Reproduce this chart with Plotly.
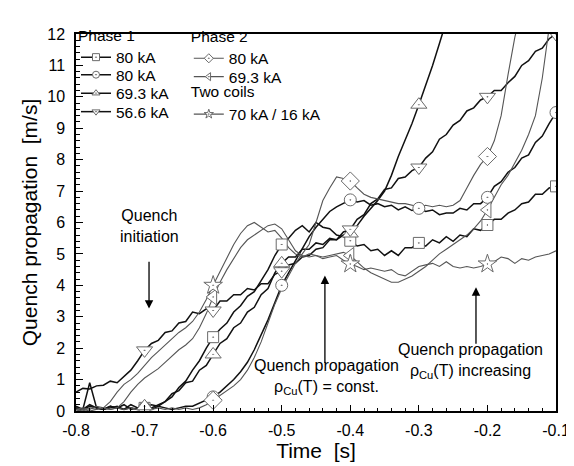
import plotly.graph_objects as go

# time grid [s]
t = [-0.80, -0.79, -0.78, -0.77, -0.76, -0.75, -0.74, -0.73, -0.72, -0.71,
     -0.70, -0.69, -0.68, -0.67, -0.66, -0.65, -0.64, -0.63, -0.62, -0.61,
     -0.60, -0.59, -0.58, -0.57, -0.56, -0.55, -0.54, -0.53, -0.52, -0.51,
     -0.50, -0.49, -0.48, -0.47, -0.46, -0.45, -0.44, -0.43, -0.42, -0.41,
     -0.40, -0.39, -0.38, -0.37, -0.36, -0.35, -0.34, -0.33, -0.32, -0.31,
     -0.30, -0.29, -0.28, -0.27, -0.26, -0.25, -0.24, -0.23, -0.22, -0.21,
     -0.20, -0.19, -0.18, -0.17, -0.16, -0.15, -0.14, -0.13, -0.12, -0.11,
     -0.10]

# Phase 1, 80 kA (square)
p1_80a = [0.15, 0.05, 0.2, 0.1, 0.05, 0.15, 0.1, 0.05, 0.2, 0.1,
          0.1, 0.2, 0.15, 0.3, 0.45, 0.75, 0.95, 1.3, 1.6, 2.0,
          2.35, 2.6, 2.8, 3.15, 3.35, 3.65, 3.8, 4.15, 4.5, 4.95,
          5.3, 5.5, 5.75, 5.9, 5.7, 6.0, 5.85, 5.8, 5.6, 5.55,
          5.42, 5.25, 5.3, 5.1, 5.15, 4.95, 5.1, 4.95, 5.2, 5.2,
          5.35, 5.25, 5.45, 5.35, 5.55, 5.4, 5.6, 5.55, 5.8, 5.75,
          5.92, 6.1, 6.1, 6.3, 6.4, 6.6, 6.65, 6.9, 6.9, 7.1,
          7.15]
# Phase 1, 80 kA (circle)
p1_80b = [0.1, 0.05, 0.15, 0.1, 0.05, 0.1, 0.15, 0.05, 0.1, 0.05,
          0.1, 0.05, 0.15, 0.1, 0.05, 0.1, 0.15, 0.15, 0.25, 0.35,
          0.45, 0.6, 0.8, 1.0, 1.25, 1.55, 1.95, 2.4, 2.9, 3.45,
          4.0, 4.4, 4.8, 5.2, 5.55, 5.85, 6.1, 6.35, 6.5, 6.6,
          6.72, 6.65, 6.7, 6.55, 6.6, 6.5, 6.55, 6.4, 6.5, 6.38,
          6.45, 6.35, 6.4, 6.25, 6.3, 6.3, 6.45, 6.4, 6.6, 6.6,
          6.8, 7.15, 7.3, 7.6, 7.75, 8.05, 8.15, 8.55, 8.75, 9.15,
          9.5]
# Phase 1, 69.3 kA (triangle up)
p1_69 = [0.1, 0.05, 0.9, 0.1, 0.05, 0.15, 0.1, 0.2, 0.05, 0.1,
         0.15, 0.1, 0.2, 0.3, 0.55, 0.65, 0.9, 0.95, 1.3, 1.45,
         1.8, 2.15, 2.3, 2.65, 2.8, 3.15, 3.3, 3.7, 3.9, 4.4,
         4.7, 4.9, 4.9, 5.15, 5.15, 5.35, 5.3, 5.5, 5.45, 5.6,
         5.65, 5.9, 6.2, 6.45, 6.7, 7.0, 7.5, 8.1, 8.6, 9.15,
         9.75, 10.35, 11.0, 11.7, 12.4, None, None, None, None, None,
         None, None, None, None, None, None, None, None, None, None,
         None]
# Phase 1, 56.6 kA (triangle down)
p1_56 = [0.6, 0.72, 0.7, 0.8, 0.82, 0.95, 0.9, 1.1, 1.3, 1.6,
         1.93, 2.15, 2.25, 2.5, 2.55, 2.8, 2.85, 3.15, 3.1, 3.25,
         3.2, 3.5, 3.5, 3.7, 3.7, 3.9, 3.85, 4.05, 4.05, 4.35,
         4.45, 4.65, 4.7, 4.9, 4.95, 5.15, 5.2, 5.45, 5.45, 5.7,
         5.78, 6.1, 6.25, 6.6, 6.75, 7.05, 7.1, 7.4, 7.45, 7.65,
         7.75, 8.05, 8.25, 8.65, 8.8, 9.1, 9.25, 9.55, 9.65, 9.9,
         10.0, 10.2, 10.2, 10.45, 10.65, 11.0, 11.15, 11.45, 11.55, 11.85,
         12.0]
# Phase 2, 80 kA (diamond)
p2_80 = [0.05, 0.1, 0.05, 0.15, 0.1, 0.05, 0.1, 0.05, 0.1, 0.05,
         0.1, 0.05, 0.1, 0.05, 0.1, 0.05, 0.1, 0.05, 0.1, 0.2,
         0.34, 0.5, 0.65, 0.8, 1.0, 1.3, 1.7, 2.2, 2.8, 3.4,
         3.9, 4.3, 4.7, 5.0, 5.3, 6.0, 6.7, 7.1, 7.45, 7.4,
         7.32, 7.1, 6.9, 6.8, 6.75, 6.7, 6.65, 6.6, 6.6, 6.55,
         6.5, 6.55, 6.5, 6.55, 6.5, 6.55, 6.7, 7.1, 7.5, 7.85,
         8.1, 8.6, 9.4, 10.7, 11.9, 12.8, None, None, None, None,
         None]
# Phase 2, 69.3 kA (triangle left)
p2_69 = [0.05, 0.0, 0.1, 0.05, 0.1, 0.05, 0.1, 0.3, 0.6, 0.85,
         1.05, 1.2, 1.35, 1.55, 1.75, 1.95, 2.1, 2.3, 2.65, 3.1,
         3.63, 4.1, 4.5, 4.85, 5.2, 5.45, 5.6, 5.75, 5.9, 5.95,
         5.8, 5.45, 5.1, 4.95, 4.9, 4.95, 4.9, 4.95, 5.0, 5.05,
         4.95, 4.75, 4.55, 4.4, 4.3, 4.2, 4.1, 4.1, 4.2, 4.3,
         4.45, 4.6, 4.8, 5.0, 5.15, 5.3, 5.45, 5.6, 5.8, 6.05,
         6.4, 6.8, 7.2, 7.5, 7.9, 8.3, 8.8, 9.4, 10.6, 12.2,
         None]
# Two coils, 70 kA / 16 kA (star)
two = [0.0, 0.05, 0.0, 0.05, 0.1, 0.3, 0.6, 0.85, 1.0, 1.2,
       1.45, 1.7, 1.9, 2.1, 2.3, 2.5, 2.65, 2.85, 3.15, 3.55,
       4.0, 4.45, 4.9, 5.3, 5.65, 5.9, 6.0, 5.85, 5.7, 5.75,
       5.5, 5.2, 5.0, 4.9, 5.0, 4.95, 4.85, 4.9, 4.95, 4.8,
       4.68, 4.6, 4.5, 4.55, 4.5, 4.45, 4.5, 4.35, 4.3, 4.45,
       4.6, 4.65, 4.7, 4.6, 4.75, 4.6, 4.55, 4.6, 4.55, 4.6,
       4.68, 4.75, 4.9, 4.85, 4.7, 4.85, 4.8, 4.9, 4.95, 5.0,
       5.1]

# times at which symbols are drawn
mk_p1_80a = [-0.70, -0.60, -0.50, -0.40, -0.30, -0.20, -0.10]
mk_p1_80b = [-0.70, -0.60, -0.50, -0.40, -0.30, -0.20, -0.10]
mk_p1_69 = [-0.70, -0.60, -0.50, -0.40, -0.30]
mk_p1_56 = [-0.70, -0.60, -0.50, -0.40, -0.30, -0.20, -0.10]
mk_p2_80 = [-0.60, -0.40, -0.20]
mk_p2_69 = [-0.60, -0.40, -0.20]
mk_two = [-0.60, -0.40, -0.20]

x_tickvals = [-0.8, -0.7, -0.6, -0.5, -0.4, -0.3, -0.2, -0.1]
x_ticktext = ["-0.8", "-0.7", "-0.6", "-0.5", "-0.4", "-0.3", "-0.2", "-0.1"]

BLACK = "#111111"
GRAY = "#555555"
MK = "#6a6a6a"
FONT = "Liberation Sans, Arial, sans-serif"

series = [
    # name, y, marker times, symbol, size, line color, width, legend id
    ("80 kA", p1_80a, mk_p1_80a, "square-dot", 11, BLACK, 1.5, "legend"),
    ("80 kA", p1_80b, mk_p1_80b, "circle-dot", 12, BLACK, 1.5, "legend2"),
    ("69.3 kA", p1_69, mk_p1_69, "triangle-up-dot", 14, BLACK, 1.5, "legend3"),
    ("56.6 kA", p1_56, mk_p1_56, "triangle-down-dot", 14, BLACK, 1.5, "legend4"),
    ("80 kA", p2_80, mk_p2_80, "diamond-dot", 14, GRAY, 1.1, "legend5"),
    ("69.3 kA", p2_69, mk_p2_69, "triangle-left-dot", 14, GRAY, 1.1, "legend6"),
    ("70 kA / 16 kA", two, mk_two, "star-dot", 14, GRAY, 1.1, "legend7"),
]

fig = go.Figure()

# lines
for name, y, mk, sym, sz, col, w, lg in series:
    fig.add_trace(go.Scatter(x=t, y=y, mode="lines", showlegend=False,
                             line=dict(color=col, width=w), hoverinfo="skip"))

# symbols, placed on the curve values
for name, y, mk, sym, sz, col, w, lg in series:
    mx = [m for m in mk]
    my = [y[t.index(m)] for m in mk]
    fig.add_trace(go.Scatter(x=mx, y=my, mode="markers", showlegend=False,
                             cliponaxis=True,
                             marker=dict(symbol=sym, size=sz, color="white",
                                         line=dict(color=MK, width=1))))

# legend entries
for name, y, mk, sym, sz, col, w, lg in series:
    fig.add_trace(go.Scatter(x=[None], y=[None], mode="lines+markers", name=name,
                             legend=lg, line=dict(color=col, width=w),
                             marker=dict(symbol=sym, size=7, color="white",
                                         line=dict(color=MK, width=1))))

LFS = 15.5


def leg(x, y, title=None):
    d = dict(bgcolor="rgba(0,0,0,0)", borderwidth=0,
             font=dict(family=FONT, size=LFS, color="black"),
             xanchor="left", yanchor="top", itemclick=False, x=x, y=y)
    if title:
        d["title"] = dict(text=title, font=dict(family=FONT, size=LFS))
    return d


fig.update_layout(
    width=574, height=466,
    margin=dict(l=68, r=26, t=13, b=63),
    paper_bgcolor="white", plot_bgcolor="white",
    font=dict(family=FONT, color="black"),
    legend=leg(0.0, 1.036, "Phase 1"),
    legend2=leg(0.0, 0.936),
    legend3=leg(0.0, 0.887),
    legend4=leg(0.0, 0.838),
    legend5=leg(0.235, 1.033, "Phase 2"),
    legend6=leg(0.235, 0.9308),
    legend7=leg(0.235, 0.885, "Two coils"),
    xaxis2=dict(overlaying="x", side="top", anchor="y", range=[-0.8, -0.1],
                tickvals=x_tickvals, showticklabels=False,
                ticks="inside", ticklen=6, tickwidth=1.2, tickcolor="black",
                minor=dict(dtick=0.02, ticks="inside", ticklen=3, tickcolor="black", tickwidth=1),
                showline=False, showgrid=False, zeroline=False),
    yaxis2=dict(overlaying="y", side="right", anchor="x", range=[0, 12], dtick=1, tick0=0,
                showticklabels=False,
                ticks="inside", ticklen=7, tickwidth=1.2, tickcolor="black",
                minor=dict(dtick=0.2, ticks="inside", ticklen=4, tickcolor="black", tickwidth=1),
                showline=False, showgrid=False, zeroline=False),
)

fig.layout.xaxis.update(
    range=[-0.8, -0.1], tickvals=x_tickvals, ticktext=x_ticktext,
    ticks="inside", ticklen=6, tickwidth=1.2, tickcolor="black",
    minor=dict(dtick=0.02, ticks="inside", ticklen=3, tickcolor="black", tickwidth=1),
    showline=True, linecolor="black", linewidth=1.5, mirror=True,
    showgrid=False, zeroline=False,
    tickfont=dict(family=FONT, size=16), ticklabelstandoff=4,
    title=dict(text="Time  [s]", font=dict(family=FONT, size=21), standoff=5),
)
fig.layout.yaxis.update(
    range=[0, 12], dtick=1, tick0=0,
    ticks="inside", ticklen=7, tickwidth=1.2, tickcolor="black",
    minor=dict(dtick=0.2, ticks="inside", ticklen=4, tickcolor="black", tickwidth=1),
    showline=True, linecolor="black", linewidth=1.5, mirror=True,
    showgrid=False, zeroline=False,
    tickfont=dict(family=FONT, size=16), ticklabelstandoff=6,
    title=dict(text="Quench propagation  [m/s]", font=dict(family=FONT, size=21), standoff=4),
)

AF = dict(family=FONT, size=16, color="black")
# texts
fig.add_annotation(x=-0.6935, y=5.9, xref="x", yref="y", text="Quench<br>initiation",
                   showarrow=False, font=AF, align="center")
fig.add_annotation(x=-0.4354, y=1.08, xref="x", yref="y",
                   text="Quench propagation<br>ρ<sub>Cu</sub>(T) = const.",
                   showarrow=False, font=AF, align="center")
fig.add_annotation(x=-0.224, y=1.58, xref="x", yref="y",
                   text="Quench propagation<br>ρ<sub>Cu</sub>(T) increasing",
                   showarrow=False, font=AF, align="center")
# arrows
arrow = dict(showarrow=True, arrowhead=2, arrowsize=1.3, arrowwidth=1.3,
             arrowcolor="black", text="", xref="x", yref="y", axref="x", ayref="y",
             standoff=0, startstandoff=0)
fig.add_annotation(x=-0.6935, y=3.26, ax=-0.6935, ay=4.8, **arrow)
fig.add_annotation(x=-0.437, y=4.31, ax=-0.437, ay=1.48, **arrow)
fig.add_annotation(x=-0.2167, y=3.94, ax=-0.2167, ay=2.09, **arrow)

fig.write_html("out.html")
